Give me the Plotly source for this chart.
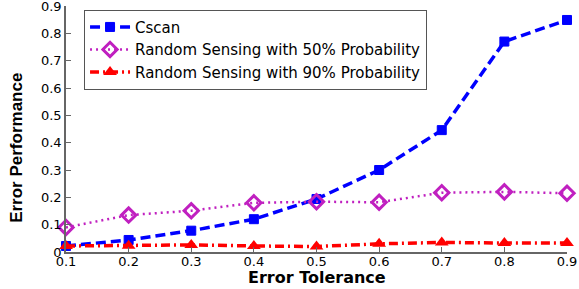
import plotly.graph_objects as go

x_vals = [0.1, 0.2, 0.3, 0.4, 0.5, 0.6, 0.7, 0.8, 0.9]
cscan = [0.022, 0.044, 0.078, 0.12, 0.194, 0.30, 0.446, 0.77, 0.849]
rand50 = [0.09, 0.135, 0.151, 0.18, 0.184, 0.182, 0.217, 0.22, 0.215]
rand90 = [0.022, 0.023, 0.026, 0.022, 0.02, 0.03, 0.035, 0.033, 0.033]
names = ["Cscan", "Random Sensing with 50% Probability", "Random Sensing with 90% Probability"]
x_ticks = [0.1, 0.2, 0.3, 0.4, 0.5, 0.6, 0.7, 0.8, 0.9]
y_ticks = [0, 0.1, 0.2, 0.3, 0.4, 0.5, 0.6, 0.7, 0.8, 0.9]
y_tick_text = ["0", "0.1", "0.2", "0.3", "0.4", "0.5", "0.6", "0.7", "0.8", "0.9"]
x_title = "Error Tolerance"
y_title = "Error Performance"

fig = go.Figure()
fig.add_trace(go.Scatter(
    x=x_vals, y=cscan, name=names[0], mode="lines+markers",
    line=dict(color="#0000FF", width=3.5, dash="10px,5px"),
    marker=dict(symbol="square", size=9, color="#0000FF",
                line=dict(color="#0000FF", width=1)),
    cliponaxis=False))
fig.add_trace(go.Scatter(
    x=x_vals, y=rand50, name=names[1], mode="lines+markers",
    line=dict(color="#C020C0", width=2.5, dash="2px,4px"),
    marker=dict(symbol="diamond-open", size=11, color="#C020C0",
                line=dict(color="#C020C0", width=3)),
    cliponaxis=False))
fig.add_trace(go.Scatter(
    x=x_vals, y=rand90, name=names[2], mode="lines+markers",
    line=dict(color="#FF0000", width=3.5, dash="9px,4px,2px,4px"),
    marker=dict(symbol="triangle-up", size=12, color="#FF0000"),
    cliponaxis=False))

fig.update_layout(
    width=579, height=289,
    margin=dict(l=66, r=12, t=6, b=37),
    paper_bgcolor="white", plot_bgcolor="white",
    font=dict(family="DejaVu Sans, Arial, sans-serif", size=13, color="black"),
    showlegend=True,
    legend=dict(x=0.036, y=0.985, xanchor="left", yanchor="top",
                bgcolor="white", bordercolor="#555555", borderwidth=1,
                font=dict(size=15), tracegroupgap=0, itemwidth=40),
    annotations=[
        dict(text="<b>" + x_title + "</b>", xref="paper", yref="paper",
             x=0.5, y=-0.103, xanchor="center", yanchor="middle", showarrow=False,
             font=dict(family="DejaVu Sans, Arial, sans-serif", size=16)),
        dict(text="<b>" + y_title + "</b>", xref="paper", yref="paper",
             x=-0.098, y=0.423, xanchor="center", yanchor="middle", showarrow=False,
             textangle=-90,
             font=dict(family="Liberation Sans, Arial, sans-serif", size=17)),
    ],
)
fig.update_xaxes(
    range=[0.1, 0.9], tickvals=x_ticks, ticktext=[str(v) for v in x_ticks],
    showgrid=False, zeroline=False, showline=True, linecolor="#666666", linewidth=1.5,
    ticks="inside", ticklen=5, tickcolor="#666666", automargin=False,
    ticklabeloverflow="allow", ticklabelstandoff=-3, tickfont=dict(size=13))
fig.update_yaxes(
    range=[0, 0.9001], tickvals=y_ticks, ticktext=y_tick_text,
    showgrid=False, zeroline=False, showline=True, linecolor="#666666", linewidth=1.5,
    ticks="inside", ticklen=5, tickcolor="#666666", automargin=False,
    ticklabeloverflow="allow", tickfont=dict(size=13))

fig.write_html("out.html", config={"displayModeBar": False},
               post_script="document.body.style.margin='0';")
